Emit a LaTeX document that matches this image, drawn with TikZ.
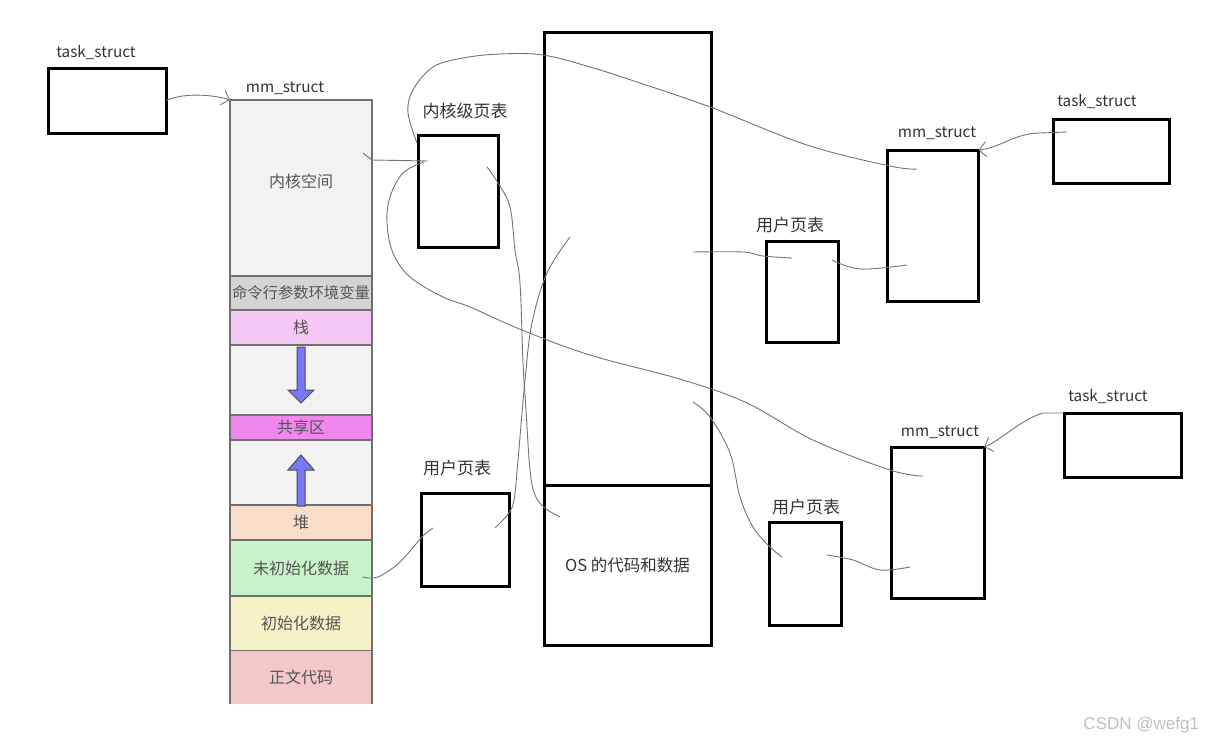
\documentclass[tikz,border=0pt]{standalone}
\usepackage{fontspec}
\setmainfont{Noto Sans CJK SC}
\newfontfamily\wmfont{Liberation Sans}
\usetikzlibrary{arrows.meta,positioning,calc}

\definecolor{kernfill}{HTML}{F2F2F2}
\definecolor{argfill}{HTML}{D4D4D4}
\definecolor{stackfill}{HTML}{F5C8F5}
\definecolor{gapfill}{HTML}{F2F2F2}
\definecolor{sharefill}{HTML}{EE88EE}
\definecolor{heapfill}{HTML}{F8DEC8}
\definecolor{bssfill}{HTML}{C8F2C8}
\definecolor{datafill}{HTML}{F5F2C8}
\definecolor{codefill}{HTML}{F2C8C8}
\definecolor{segline}{HTML}{707070}
\definecolor{segtext}{HTML}{555555}
\definecolor{arrowblue}{HTML}{7878FF}

\begin{document}
\begin{tikzpicture}[
        x=1pt, y=-1pt,
        every node/.style={inner sep=0pt, outer sep=0pt},
        box/.style={rectangle, draw=black, line width=3pt, font=\fontsize{16.5}{19}\selectfont, text=black!80},
        seg/.style={rectangle, draw=segline, line width=2.5pt, fill=#1, minimum width=142pt, text=segtext, font=\fontsize{16}{19}\selectfont},
        lbl/.style={font=\fontsize{15.3}{18}\selectfont, text=black!80},
        clbl/.style={font=\fontsize{17}{20}\selectfont, text=black!80},
        wire/.style={draw=black!55, line width=0.9pt},
        barb/.style={-{Straight Barb[length=7pt,width=15pt]}},
        blockarrow/.style={draw=black!70, line width=1pt, fill=arrowblue},
    ]
    \useasboundingbox (0,0) rectangle (1205,747);

    % === LEFT: task_struct and the memory layout (mm_struct) ===
    \node[box, minimum width=118pt, minimum height=65pt] (ltask) at (107,100.5) {};
    \node[lbl] at (96,52) {task\_struct};
    \node[lbl] at (285,88) {mm\_struct};

    \node[seg=kernfill, minimum height=176pt, text depth=14pt] (kern) at (301,188) {内核空间};
    \node[seg=argfill, minimum height=34pt, font=\fontsize{15.3}{18}\selectfont, below=0pt of kern] (args) {命令行参数环境变量};
    \node[seg=stackfill, minimum height=35pt, below=0pt of args] (stack) {栈};
    \node[seg=gapfill, minimum height=70pt, below=0pt of stack] (gapdown) {};
    \node[seg=sharefill, minimum height=25pt, below=0pt of gapdown] (share) {共享区};
    \node[seg=gapfill, minimum height=65pt, below=0pt of share] (gapup) {};
    \node[seg=heapfill, minimum height=35pt, below=0pt of gapup] (heap) {堆};
    \node[seg=bssfill, minimum height=56pt, below=0pt of heap] (bss) {未初始化数据};
    \node[seg=datafill, minimum height=55pt, below=0pt of bss] (data) {初始化数据};
    \node[seg=codefill, draw=none, minimum height=53pt, below=0pt of data] (code) {正文代码};
    \draw[draw=segline, line width=2.5pt] (code.north west) -- (code.south west)
        (code.north east) -- (code.south east);

    % stack grows down, heap grows up
    \draw[blockarrow] ($(gapdown.north)+(-4,2)$) -- ++(0,43) -- ++(-9,0) -- ++(13,13)
        -- ++(13,-13) -- ++(-9,0) -- ++(0,-43) -- cycle;
    \draw[blockarrow] ($(gapup.south)+(-4,1)$) -- ++(0,-36) -- ++(-9,0) -- ++(13,-15)
        -- ++(13,15) -- ++(-9,0) -- ++(0,36) -- cycle;

    % === MIDDLE: page tables and physical memory ===
    \node[box, minimum width=80pt, minimum height=112pt] (ktab) at (458,191) {};
    \node[clbl] at (465,111) {内核级页表};

    \node[box, minimum width=88pt, minimum height=93pt] (utab1) at (465,540) {};
    \node[clbl] at (457,468) {用户页表};

    \node[box, minimum width=167pt, minimum height=453pt] (physmem) at (627.5,258.5) {};
    \node[box, minimum width=167pt, minimum height=160pt, below=0pt of physmem] (oscode) {OS 的代码和数据};

    % === RIGHT: two more processes ===
    \node[box, minimum width=72pt, minimum height=101pt] (utab2) at (802,291.5) {};
    \node[clbl] at (790,225) {用户页表};
    \node[box, minimum width=91pt, minimum height=151pt] (mm1) at (933,225.5) {};
    \node[lbl] at (937,133) {mm\_struct};
    \node[box, minimum width=116pt, minimum height=64pt] (task1) at (1111,151) {};
    \node[lbl] at (1097,101) {task\_struct};

    \node[box, minimum width=72pt, minimum height=103pt] (utab3) at (805,573.5) {};
    \node[clbl] at (806,507) {用户页表};
    \node[box, minimum width=93pt, minimum height=151pt] (mm2) at (937.5,522.5) {};
    \node[lbl] at (940,432) {mm\_struct};
    \node[box, minimum width=117pt, minimum height=64pt] (task2) at (1122.5,445) {};
    \node[lbl] at (1108,396) {task\_struct};

    % free ends of the hand drawn links
    \coordinate (kspace) at (363,153);
    \coordinate (ktabin) at (428,161);
    \coordinate (ktabtop) at (417,143);
    \coordinate (ktabloop) at (424,162);
    \coordinate (ktabout) at (487,167);
    \coordinate (oscodein) at (560,517);
    \coordinate (utab1in) at (433,528);
    \coordinate (utab1out) at (495,528);
    \coordinate (bssout) at (363,577);
    \coordinate (physuser) at (570,237);
    \coordinate (physu2) at (693,252);
    \coordinate (utab2in) at (792,258);
    \coordinate (utab2out) at (832,260);
    \coordinate (mm1in) at (917,169);
    \coordinate (mm1low) at (907,265);
    \coordinate (task1in) at (1067,132);
    \coordinate (physu3) at (693,402);
    \coordinate (utab3in) at (782,557);
    \coordinate (utab3out) at (827,555);
    \coordinate (mm2in) at (923,476);
    \coordinate (mm2low) at (910,567);

    % === LINKS ===
    \draw[wire, barb] (ltask.east) .. controls (185,92) and (215,95) .. (kern.north west);
    \draw[wire] (kspace) -- (372,160) -- (ktabin);
    \draw[wire] plot[smooth, tension=0.6] coordinates {(ktabtop) (408,113) (413,90) (433,67)
        (463,58) (500,54) (543,55) (590,67) (640,83) (710,107) (807,145) (890,166) (mm1in)};
    \draw[wire] plot[smooth, tension=0.6] coordinates {(ktabloop) (403,173) (390,197) (387,223)
        (393,253) (410,277) (443,297) (470,307) (522,330) (590,355) (683,380) (747,403)
        (813,440) (890,470) (mm2in)};
    \draw[wire] plot[smooth, tension=0.6] coordinates {(ktabout) (498,183) (510,207) (515,250)
        (520,283) (523,363) (526,410) (530,470) (535,495) (545,508) (oscodein)};
    \draw[wire] plot[smooth, tension=0.6] coordinates {(utab1out) (508,514) (514,500)
        (518,460) (525,380) (532,323) (547,273) (physuser)};
    \draw[wire] plot[smooth, tension=0.6] coordinates {(bssout) (378,577) (400,562) (422,537) (utab1in)};
    \draw[wire] plot[smooth, tension=0.6] coordinates {(physu2) (743,252) (763,256) (utab2in)};
    \draw[wire] plot[smooth, tension=0.6] coordinates {(utab2out) (860,269) (mm1low)};
    \draw[wire, barb] (task1in) -- (1040,133) .. controls (1015,133) and (1000,148) .. (mm1.north east);
    \draw[wire] plot[smooth, tension=0.6] coordinates {(physu3) (710,417) (730,453) (740,497)
        (753,527) (770,547) (utab3in)};
    \draw[wire] plot[smooth, tension=0.6] coordinates {(utab3out) (853,560) (880,570) (mm2low)};
    \draw[wire, barb] (task2.north west) -- (1043,413) .. controls (1020,420) and (1000,441) .. (mm2.north east);

    % watermark
    \node[font=\wmfont\fontsize{17}{20}\selectfont, text=black!25, anchor=east] (mark) at (1199,725) {CSDN @wefg1};
\end{tikzpicture}
\end{document}
